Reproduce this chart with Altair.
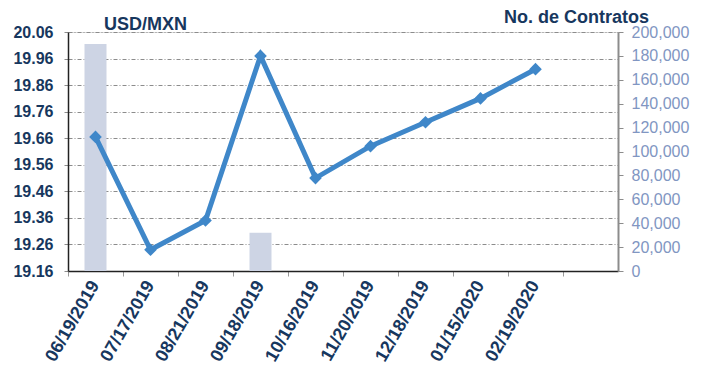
import altair as alt
import pandas as pd

dates = ["06/19/2019", "07/17/2019", "08/21/2019", "09/18/2019", "10/16/2019",
         "11/20/2019", "12/18/2019", "01/15/2020", "02/19/2020"]
usdmxn = [19.665, 19.24, 19.35, 19.97, 19.51, 19.63, 19.72, 19.81, 19.92]
contratos = [190000, 0, 0, 32000, 0, 0, 0, 0, 0]
left_ticks = [19.16, 19.26, 19.36, 19.46, 19.56, 19.66, 19.76, 19.86, 19.96, 20.06]
right_ticks = [0, 20000, 40000, 60000, 80000, 100000, 120000, 140000, 160000, 180000, 200000]

df = pd.DataFrame({"fecha": dates, "usdmxn": usdmxn, "contratos": contratos})
domain = dates + [" "]

NAVY = "#17375e"
FONT = "Liberation Sans"
GRID = "#8c8c8c"

x = alt.X("fecha:N", sort=domain,
          scale=alt.Scale(domain=domain, paddingInner=0, paddingOuter=0),
          axis=alt.Axis(title=None, labelAngle=-60, labelFont=FONT, labelFontSize=18,
                        labelFontWeight="bold", labelColor=NAVY, bandPosition=0,
                        tickColor="#999999", tickSize=5, domainColor="#222222",
                        domainWidth=1.5, labelPadding=6, grid=False))

bars = alt.Chart(df).mark_bar(color="#cdd4e4", width=22).encode(
    x=x,
    y=alt.Y("contratos:Q",
            scale=alt.Scale(domain=[0, 200000], nice=False),
            axis=alt.Axis(orient="right", values=right_ticks, format=",d",
                          title="No. de Contratos", titleAngle=0, titleX=-42, titleY=-10,
                          titleAlign="center", titleBaseline="alphabetic",
                          titleFont=FONT, titleFontSize=18, titleFontWeight="bold",
                          titleColor=NAVY, labelFont=FONT, labelFontSize=16,
                          labelColor="#8196c2", labelPadding=8, tickSize=5,
                          tickColor="#8c8c8c", domainColor="#8c8c8c", domainWidth=2,
                          grid=False)),
)

line = alt.Chart(df).mark_line(color="#3f87c9", strokeWidth=5,
                               point=alt.OverlayMarkDef(shape="diamond", size=160,
                                                        color="#3f87c9", filled=True,
                                                        opacity=1)).encode(
    x=x,
    y=alt.Y("usdmxn:Q",
            scale=alt.Scale(domain=[19.16, 20.06], nice=False, zero=False),
            axis=alt.Axis(orient="left", values=left_ticks, format=".2f",
                          title="USD/MXN", titleAngle=0, titleX=77, titleY=-3,
                          titleAlign="center", titleBaseline="alphabetic",
                          titleFont=FONT, titleFontSize=18, titleFontWeight="bold",
                          titleColor=NAVY, labelFont=FONT, labelFontSize=16,
                          labelFontWeight="bold", labelColor=NAVY, labelPadding=10,
                          tickSize=5, tickColor=GRID, tickDash=[4, 2, 1, 2],
                          domainColor="#222222", domainWidth=1.5,
                          grid=True, gridColor=GRID, gridDash=[4, 2, 1, 2],
                          gridWidth=1)),
)

chart = alt.layer(bars, line).resolve_scale(y="independent").properties(
    width=550, height=239,
    autosize=alt.AutoSizeParams(type="none"),
    padding={"left": 60, "top": 24, "right": 81, "bottom": 95},
).configure_view(stroke=None).configure(background="white")

chart.save("out.html", embed_options={"renderer": "svg", "actions": False})
